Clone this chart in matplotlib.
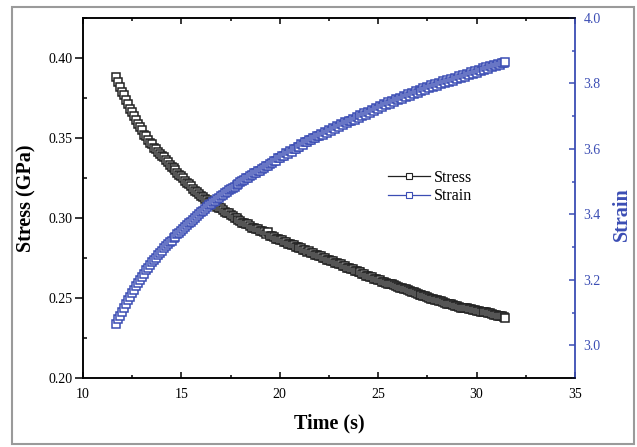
import matplotlib
matplotlib.use("Agg")
import matplotlib.pyplot as plt
from matplotlib.lines import Line2D
from matplotlib.patches import Rectangle
from matplotlib.ticker import MultipleLocator, FormatStrFormatter

plt.rcParams["font.family"] = ["Liberation Serif", "DejaVu Serif"]

# Time samples (s)
time_s = [
    11.7, 11.8, 11.9, 12.0, 12.1, 12.2, 12.3, 12.4, 12.5, 12.6,
    12.7, 12.8, 12.9, 13.0, 13.1, 13.2, 13.3, 13.4, 13.5, 13.6,
    13.7, 13.8, 13.9, 14.0, 14.1, 14.2, 14.3, 14.4, 14.5, 14.6,
    14.7, 14.8, 14.9, 15.0, 15.1, 15.2, 15.3, 15.4, 15.5, 15.6,
    15.7, 15.8, 15.9, 16.0, 16.1, 16.2, 16.3, 16.4, 16.5, 16.6,
    16.7, 16.8, 16.9, 17.0, 17.1, 17.2, 17.3, 17.4, 17.5, 17.6,
    17.7, 17.8, 17.9, 18.0, 18.1, 18.2, 18.3, 18.4, 18.5, 18.6,
    18.7, 18.8, 18.9, 19.0, 19.1, 19.2, 19.3, 19.4, 19.5, 19.6,
    19.7, 19.8, 19.9, 20.0, 20.1, 20.2, 20.3, 20.4, 20.5, 20.6,
    20.7, 20.8, 20.9, 21.0, 21.1, 21.2, 21.3, 21.4, 21.5, 21.6,
    21.7, 21.8, 21.9, 22.0, 22.1, 22.2, 22.3, 22.4, 22.5, 22.6,
    22.7, 22.8, 22.9, 23.0, 23.1, 23.2, 23.3, 23.4, 23.5, 23.6,
    23.7, 23.8, 23.9, 24.0, 24.1, 24.2, 24.3, 24.4, 24.5, 24.6,
    24.7, 24.8, 24.9, 25.0, 25.1, 25.2, 25.3, 25.4, 25.5, 25.6,
    25.7, 25.8, 25.9, 26.0, 26.1, 26.2, 26.3, 26.4, 26.5, 26.6,
    26.7, 26.8, 26.9, 27.0, 27.1, 27.2, 27.3, 27.4, 27.5, 27.6,
    27.7, 27.8, 27.9, 28.0, 28.1, 28.2, 28.3, 28.4, 28.5, 28.6,
    28.7, 28.8, 28.9, 29.0, 29.1, 29.2, 29.3, 29.4, 29.5, 29.6,
    29.7, 29.8, 29.9, 30.0, 30.1, 30.2, 30.3, 30.4, 30.5, 30.6,
    30.7, 30.8, 30.9, 31.0, 31.1, 31.2, 31.3, 31.4, 31.45,
]

# Stress (GPa)
stress_gpa = [
    0.388, 0.385, 0.382, 0.379, 0.377, 0.374, 0.371, 0.368, 0.366, 0.364,
    0.361, 0.359, 0.357, 0.355, 0.352, 0.351, 0.349, 0.347, 0.346, 0.344,
    0.343, 0.341, 0.340, 0.339, 0.338, 0.336, 0.335, 0.333, 0.332, 0.331,
    0.330, 0.328, 0.327, 0.326, 0.325, 0.323, 0.322, 0.321, 0.320, 0.318,
    0.317, 0.316, 0.315, 0.314, 0.313, 0.312, 0.311, 0.310, 0.310, 0.309,
    0.308, 0.307, 0.306, 0.306, 0.305, 0.304, 0.303, 0.303, 0.302, 0.301,
    0.300, 0.300, 0.299, 0.298, 0.297, 0.297, 0.296, 0.296, 0.295, 0.294,
    0.294, 0.293, 0.293, 0.292, 0.292, 0.291, 0.290, 0.291, 0.289, 0.289,
    0.288, 0.287, 0.287, 0.286, 0.286, 0.285, 0.285, 0.284, 0.284, 0.283,
    0.283, 0.282, 0.282, 0.281, 0.281, 0.280, 0.280, 0.279, 0.2795, 0.278,
    0.278, 0.277, 0.277, 0.276, 0.276, 0.275, 0.275, 0.274, 0.274, 0.273,
    0.273, 0.272, 0.272, 0.271, 0.271, 0.270, 0.270, 0.269, 0.269, 0.268,
    0.268, 0.267, 0.267, 0.266, 0.266, 0.265, 0.265, 0.264, 0.264, 0.263,
    0.263, 0.262, 0.262, 0.261, 0.261, 0.260, 0.260, 0.2595, 0.259, 0.2585,
    0.2585, 0.258, 0.2575, 0.257, 0.2565, 0.256, 0.2555, 0.2555, 0.255, 0.2545,
    0.254, 0.2535, 0.253, 0.2525, 0.252, 0.252, 0.2515, 0.251, 0.2505, 0.250,
    0.2495, 0.2495, 0.249, 0.2485, 0.248, 0.248, 0.2475, 0.247, 0.2465, 0.2465,
    0.246, 0.2455, 0.245, 0.245, 0.2445, 0.244, 0.244, 0.2435, 0.2435, 0.243,
    0.243, 0.2425, 0.2425, 0.242, 0.242, 0.2415, 0.2415, 0.241, 0.241, 0.2405,
    0.2405, 0.240, 0.2395, 0.2395, 0.239, 0.239, 0.2385, 0.238, 0.2375,
]

# Strain
strain = [
    3.066, 3.079, 3.090, 3.103, 3.114, 3.127, 3.138, 3.148, 3.160, 3.170,
    3.181, 3.191, 3.200, 3.210, 3.219, 3.229, 3.237, 3.246, 3.254, 3.260,
    3.268, 3.276, 3.283, 3.289, 3.296, 3.303, 3.308, 3.315, 3.320, 3.327,
    3.332, 3.339, 3.344, 3.350, 3.356, 3.361, 3.367, 3.373, 3.378, 3.384,
    3.389, 3.395, 3.400, 3.406, 3.411, 3.417, 3.422, 3.428, 3.432, 3.437,
    3.441, 3.447, 3.450, 3.456, 3.459, 3.465, 3.468, 3.474, 3.477, 3.482,
    3.485, 3.491, 3.493, 3.498, 3.503, 3.505, 3.511, 3.512, 3.518, 3.519,
    3.525, 3.526, 3.532, 3.534, 3.540, 3.541, 3.547, 3.549, 3.555, 3.556,
    3.563, 3.564, 3.571, 3.571, 3.578, 3.579, 3.586, 3.585, 3.593, 3.592,
    3.600, 3.599, 3.607, 3.606, 3.614, 3.613, 3.620, 3.620, 3.627, 3.626,
    3.634, 3.632, 3.640, 3.638, 3.646, 3.644, 3.652, 3.650, 3.658, 3.656,
    3.663, 3.661, 3.669, 3.667, 3.675, 3.672, 3.681, 3.678, 3.686, 3.684,
    3.692, 3.689, 3.697, 3.695, 3.703, 3.700, 3.709, 3.705, 3.714, 3.711,
    3.720, 3.716, 3.725, 3.722, 3.731, 3.727, 3.736, 3.733, 3.742, 3.738,
    3.747, 3.744, 3.752, 3.749, 3.757, 3.754, 3.762, 3.758, 3.767, 3.762,
    3.771, 3.767, 3.776, 3.771, 3.780, 3.776, 3.785, 3.780, 3.789, 3.785,
    3.794, 3.789, 3.798, 3.793, 3.802, 3.797, 3.806, 3.801, 3.810, 3.805,
    3.814, 3.809, 3.818, 3.813, 3.822, 3.817, 3.826, 3.821, 3.830, 3.825,
    3.834, 3.829, 3.838, 3.833, 3.842, 3.837, 3.846, 3.841, 3.849, 3.845,
    3.853, 3.849, 3.857, 3.853, 3.860, 3.857, 3.864, 3.861, 3.867,
]

black = "#222222"
blue = "#3b4db4"

fig = plt.figure(figsize=(6.37, 4.47), dpi=100)
ax = fig.add_axes([83 / 637, 1 - 378 / 447, (575 - 83) / 637, (378 - 18) / 447])
ax2 = ax.twinx()

# Data (open squares, heavily overlapping)
ax.plot(time_s, stress_gpa, linestyle="none", marker="s", markersize=5.8,
        markerfacecolor="white", markeredgecolor=black, markeredgewidth=1.1)
ax2.plot(time_s, strain, linestyle="none", marker="s", markersize=5.8,
         markerfacecolor="white", markeredgecolor=blue, markeredgewidth=1.1)

# Axes ranges and ticks
ax.set_xlim(10, 35)
ax.set_ylim(0.20, 0.425)
ax2.set_ylim(2.9, 4.0)

ax.xaxis.set_major_locator(MultipleLocator(5))
ax.xaxis.set_minor_locator(MultipleLocator(2.5))
ax.yaxis.set_major_locator(MultipleLocator(0.05))
ax.yaxis.set_minor_locator(MultipleLocator(0.025))
ax.yaxis.set_major_formatter(FormatStrFormatter("%.2f"))
ax2.yaxis.set_major_locator(MultipleLocator(0.2))
ax2.yaxis.set_minor_locator(MultipleLocator(0.1))
ax2.yaxis.set_major_formatter(FormatStrFormatter("%.1f"))

ax.tick_params(axis="x", which="both", direction="in", top=True, bottom=True,
               labelsize=10, pad=7, width=1.1)
ax.tick_params(axis="x", which="major", length=4.5)
ax.tick_params(axis="x", which="minor", length=2.5)
ax.tick_params(axis="y", which="major", direction="out", length=6, width=1.1,
               labelsize=10, pad=1.5)
ax.tick_params(axis="y", which="minor", direction="in", length=3, width=1.1)
ax2.tick_params(axis="y", which="both", direction="in", colors=blue,
                labelsize=10, pad=6, width=1.1)
ax2.tick_params(axis="y", which="major", length=4.5)
ax2.tick_params(axis="y", which="minor", length=2.5)

for side in ["left", "bottom", "top"]:
    ax.spines[side].set_linewidth(1.1)
    ax2.spines[side].set_linewidth(1.1)
ax2.spines["right"].set_color(blue)
ax2.spines["right"].set_linewidth(1.3)
ax.spines["right"].set_visible(False)

# Axis titles
fig.text(329 / 637, 1 - 423 / 447, "Time (s)", ha="center", va="center",
         fontsize=14.5, fontweight="bold")
fig.text(26 / 637, 1 - 198 / 447, "Stress (GPa)", ha="center", va="center",
         rotation=90, fontsize=14.5, fontweight="bold")
fig.text(622 / 637, 1 - 214 / 447, "Strain", ha="center", va="center",
         rotation=90, fontsize=14.5, fontweight="bold", color=blue)

# Legend
handles = [
    Line2D([], [], color=black, linewidth=0.9, marker="s", markersize=4,
           markerfacecolor="white", markeredgecolor=black, markeredgewidth=0.8),
    Line2D([], [], color=blue, linewidth=0.9, marker="s", markersize=4,
           markerfacecolor="white", markeredgecolor=blue, markeredgewidth=0.8),
]
ax2.legend(handles, ["Stress", "Strain"], loc="center left",
           bbox_to_anchor=(388 / 637, 1 - 187 / 447),
           bbox_transform=fig.transFigure, frameon=False, fontsize=11.5,
           handlelength=2.6, handletextpad=0.3, labelspacing=0.15,
           borderpad=0, borderaxespad=0)

# Grey outer frame
fig.add_artist(Rectangle((12 / 637, 1 - 444 / 447), (634 - 12) / 637,
                         (444 - 7) / 447, transform=fig.transFigure,
                         fill=False, edgecolor="#9a9a9a", linewidth=1.5))

fig.savefig("out.png", dpi=100)
